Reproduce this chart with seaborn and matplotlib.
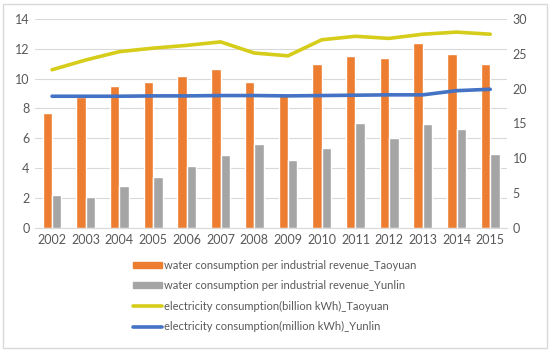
import numpy as np
import pandas as pd
import matplotlib
matplotlib.use('Agg')
import matplotlib.pyplot as plt
import seaborn as sns
from matplotlib.patches import Patch, Rectangle
from matplotlib.lines import Line2D

# data
years = ['2002', '2003', '2004', '2005', '2006', '2007', '2008',
         '2009', '2010', '2011', '2012', '2013', '2014', '2015']
water_taoyuan = [7.7, 8.8, 9.5, 9.75, 10.2, 10.65, 9.8, 9.0, 11.0, 11.5, 11.4, 12.4, 11.65, 11.0]
water_yunlin = [2.2, 2.1, 2.8, 3.4, 4.15, 4.9, 5.6, 4.55, 5.35, 7.0, 6.05, 6.95, 6.65, 4.95]
elec_taoyuan = [22.7, 24.1, 25.3, 25.8, 26.2, 26.7, 25.1, 24.7, 27.0, 27.5, 27.2, 27.8, 28.1, 27.8]
elec_yunlin = [18.9, 18.9, 18.9, 18.95, 18.95, 19.0, 19.0, 18.95, 19.0, 19.05, 19.1, 19.1, 19.7, 19.9]

labels = ['water consumption per industrial revenue_Taoyuan',
          'water consumption per industrial revenue_Yunlin',
          'electricity consumption(billion kWh)_Taoyuan',
          'electricity consumption(million kWh)_Yunlin']

c_orange = '#ED7D31'
c_gray = '#A5A5A5'
c_yellow = '#D6CC1A'
c_blue = '#4472C4'
txt = '#595959'

sns.set_style('white')
plt.rcParams['font.family'] = ['Lato', 'DejaVu Sans']

bars = pd.DataFrame({
    'year': years * 2,
    'value': water_taoyuan + water_yunlin,
    'series': [labels[0]] * len(years) + [labels[1]] * len(years),
})

fig = plt.figure(figsize=(5.5, 3.63), dpi=100)
ax = fig.add_axes([0.064, 0.372, 0.858, 0.576])

sns.barplot(data=bars, x='year', y='value', hue='series',
            palette=[c_orange, c_gray], width=0.56, saturation=1,
            legend=False, ax=ax)

ax2 = ax.twinx()
pos = np.arange(len(years))
sns.lineplot(x=pos, y=elec_taoyuan, color=c_yellow, linewidth=2.6, ax=ax2)
sns.lineplot(x=pos, y=elec_yunlin, color=c_blue, linewidth=2.6, ax=ax2)

ax.set_ylim(0, 14)
ax.set_yticks(range(0, 15, 2))
ax2.set_ylim(0, 30)
ax2.set_yticks(range(0, 31, 5))
ax.set_xlim(-0.5, len(years) - 0.5)
ax.set_xlabel('')
ax.set_ylabel('')

ax.yaxis.grid(True, color='#D9D9D9', linewidth=0.8)
ax.set_axisbelow(True)
for a in (ax, ax2):
    for s in a.spines.values():
        s.set_visible(False)
    a.tick_params(length=0, labelsize=9, colors=txt, pad=4)
ax.spines['bottom'].set_visible(True)
ax.spines['bottom'].set_color('#D9D9D9')

handles = [Patch(color=c_orange), Patch(color=c_gray),
           Line2D([], [], color=c_yellow, linewidth=2.6),
           Line2D([], [], color=c_blue, linewidth=2.6)]
fig.legend(handles, labels, loc='upper center', bbox_to_anchor=(0.5, 0.312),
           ncol=1, frameon=False, fontsize=8, labelcolor=txt,
           handlelength=2.6, handleheight=0.4, handletextpad=0.2, labelspacing=0.85)

fig.patches.append(Rectangle((0.005, 0.04), 0.99, 0.95, transform=fig.transFigure,
                             fill=False, edgecolor='#D9D9D9', linewidth=1))

fig.savefig('out.png', dpi=100)
